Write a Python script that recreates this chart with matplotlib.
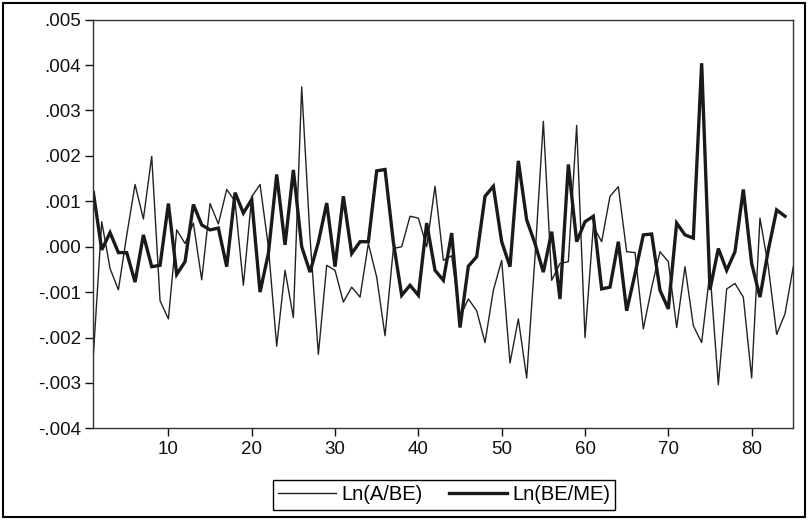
import matplotlib
matplotlib.use('Agg')
import matplotlib.pyplot as plt
from matplotlib.patches import Rectangle

plt.rcParams['font.family'] = ['Liberation Sans', 'DejaVu Sans']

# observation index
obs = list(range(1, 86))

# Ln(A/BE), thin line
ln_a_be = [-.00237, .00055, -.00048, -.00095, .00025, .00137, .00061, .00199, -.00119, -.00159,
           .00037, .00007, .00052, -.00073, .00095, .00050, .00126, .00100, -.00085, .00110,
           .00137, .00000, -.00219, -.00052, -.00156, .00352, .00020, -.00237, -.00041, -.00052,
           -.00122, -.00089, -.00111, .00007, -.00067, -.00196, -.00004, .00000, .00067, .00063,
           .00000, .00133, -.00030, -.00020, -.00155, -.00115, -.00141, -.00211, -.00096, -.00030,
           -.00256, -.00159, -.00289, -.00022, .00276, -.00074, -.00037, -.00033, .00267, -.00200,
           .00045, .00011, .00111, .00132, -.00011, -.00013, -.00181, -.00090, -.00011, -.00033,
           -.00178, -.00044, -.00174, -.00211, -.00055, -.00304, -.00093, -.00081, -.00111, -.00289,
           .00063, -.00044, -.00193, -.00148, -.00044]

# Ln(BE/ME), thick line (ends one observation earlier)
ln_be_me = [.00119, -.00007, .00031, -.00013, -.00013, -.00078, .00026, -.00044, -.00041, .00095,
            -.00061, -.00033, .00093, .00048, .00037, .00041, -.00044, .00119, .00074, .00104,
            -.00100, -.00015, .00159, .00004, .00169, .00000, -.00056, .00010, .00096, -.00044,
            .00111, -.00015, .00011, .00011, .00167, .00170, .00010, -.00107, -.00085, -.00107,
            .00052, -.00052, -.00074, .00030, -.00178, -.00043, -.00022, .00111, .00133, .00011,
            -.00044, .00189, .00059, .00007, -.00056, .00033, -.00115, .00181, .00011, .00055,
            .00067, -.00093, -.00089, .00011, -.00141, -.00060, .00026, .00028, -.00096, -.00137,
            .00052, .00026, .00019, .00404, -.00095, -.00004, -.00052, -.00011, .00126, -.00037,
            -.00111, -.00007, .00081, .00067]

yticks = [.005, .004, .003, .002, .001, .000, -.001, -.002, -.003, -.004]
ytick_labels = ['.005', '.004', '.003', '.002', '.001', '.000', '-.001', '-.002', '-.003', '-.004']
xticks = [10, 20, 30, 40, 50, 60, 70, 80]

fig = plt.figure(figsize=(8.1, 5.2), dpi=100)
ax = fig.add_axes([0.1153, 0.1762, 0.8641, 0.7861])

l1, = ax.plot(obs, ln_a_be, color='#222222', lw=1.0, label='Ln(A/BE)')
l2, = ax.plot(obs[:len(ln_be_me)], ln_be_me, color='#1a1a1a', lw=2.4,
              label='Ln(BE/ME)', solid_joinstyle='miter')

ax.set_xlim(1, 85)
ax.set_ylim(-.004, .005)
ax.set_yticks(yticks)
ax.set_yticklabels(ytick_labels)
ax.set_xticks(xticks)
ax.tick_params(direction='out', length=6, width=1, pad=3, labelsize=13.5, colors='#111111')
for s in ax.spines.values():
    s.set_color('#333333')
    s.set_linewidth(1.0)

fig.legend(handles=[l1, l2], loc='center', bbox_to_anchor=(444 / 810, 1 - 495 / 520),
           ncol=2, frameon=True, fancybox=False, edgecolor='black', framealpha=1,
           fontsize=14.5, handlelength=2.9, handletextpad=0.25, columnspacing=1.3,
           borderpad=0.25, borderaxespad=0)

# outer frame round the whole graph
fig.patches.append(Rectangle((0.004, 0.006), 0.99, 0.988, transform=fig.transFigure,
                             fill=False, edgecolor='black', lw=1.5))

fig.savefig('out.png', dpi=100)
